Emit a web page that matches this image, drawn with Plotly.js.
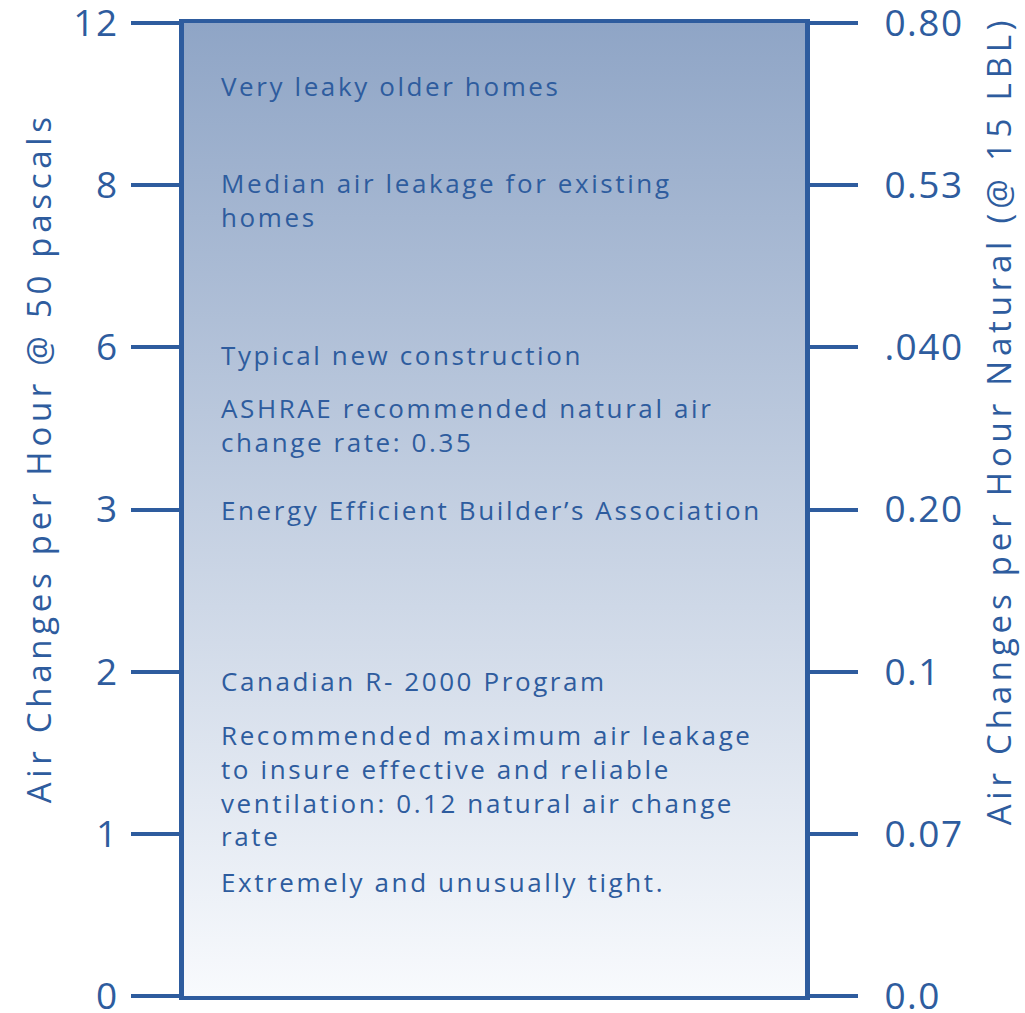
<!DOCTYPE html>
<html>
<head>
<meta charset="utf-8">
<script src="https://cdn.plot.ly/plotly-3.0.1.min.js"></script>
<style>
html,body{margin:0;padding:0;background:#fff;}
#chart{width:1025px;height:1013px;}
text.annotation-text{letter-spacing:2.6px;}
.ytick text,.y2tick text{letter-spacing:1.5px;}
</style>
</head>
<body>
<div id="chart"></div>
<script>
// Data
const ach50Ticks = ["0", "1", "2", "3", "6", "8", "12"];
const naturalTicks = ["0.0", "0.07", "0.1", "0.20", ".040", "0.53", "0.80"];
const labels = [
  ["Very leaky older homes"],
  ["Median air leakage for existing", "homes"],
  ["Typical new construction"],
  ["ASHRAE recommended natural air", "change rate: 0.35"],
  ["Energy Efficient Builder\u2019s Association"],
  ["Canadian R- 2000 Program"],
  ["Recommended maximum air leakage", "to insure effective and reliable", "ventilation: 0.12 natural air change", "rate"],
  ["Extremely and unusually tight."]
];
const labelLevels = [5.61, 4.91, 3.95, 3.52, 3.0, 1.94, 1.30, 0.70];
const leftTitle = 'Air Changes per Hour @ 50 pascals';
const rightTitle = 'Air Changes per Hour Natural (@ 15 LBL)';

const blue = '#2e5c9e';
const fontFam = '"Open Sans", "Noto Sans", sans-serif';
const idx = ach50Ticks.map((_, i) => i);
const yMax = idx[idx.length - 1];

const bg = {
  type: 'scatter', mode: 'lines',
  x: [0, 1, 1, 0, 0],
  y: [0, 0, yMax, yMax, 0],
  fill: 'toself',
  fillgradient: {type: 'vertical', colorscale: [[0, '#f8fafd'], [1, '#8fa5c6']]},
  line: {width: 0},
  hoverinfo: 'skip', showlegend: false
};
const right = {
  type: 'scatter', mode: 'markers', x: [0.5], y: [0], yaxis: 'y2',
  marker: {opacity: 0}, hoverinfo: 'skip', showlegend: false
};

const annotations = labels.map((lines, i) => ({
  xref: 'x', yref: 'y', x: 0.057, y: labelLevels[i],
  xanchor: 'left', yanchor: 'middle', align: 'left',
  text: lines.join('<br>'), showarrow: false,
  font: {family: fontFam, size: 26, color: blue}
}));
annotations.push({
  xref: 'paper', yref: 'paper', x: -0.233, y: 0.553, textangle: -90,
  xanchor: 'center', yanchor: 'middle', showarrow: false,
  text: '<span style="letter-spacing:4.7px">' + leftTitle + '</span>',
  font: {family: fontFam, size: 33, color: blue}
});
annotations.push({
  xref: 'paper', yref: 'paper', x: 1.313, y: 0.592, textangle: -90,
  xanchor: 'center', yanchor: 'middle', showarrow: false,
  text: '<span style="letter-spacing:4.8px">' + rightTitle + '</span>',
  font: {family: fontFam, size: 33, color: blue}
});

const axisCommon = {
  range: [0, yMax], tickmode: 'array', tickvals: idx,
  ticks: 'outside', ticklen: 48, tickwidth: 4, tickcolor: blue,
  showline: true, linewidth: 5, linecolor: blue,
  showgrid: false, zeroline: false, fixedrange: true,
  ticklabeloverflow: 'allow',
  tickfont: {family: fontFam, size: 37, color: blue}
};

const layout = {
  width: 1025, height: 1013,
  margin: {l: 184, r: 220, t: 23, b: 17},
  paper_bgcolor: '#ffffff', plot_bgcolor: 'rgba(0,0,0,0)',
  showlegend: false,
  xaxis: {range: [0, 1], showticklabels: false, ticks: '', showgrid: false, zeroline: false,
          showline: true, mirror: true, linewidth: 4, linecolor: blue, fixedrange: true},
  yaxis: Object.assign({}, axisCommon, {ticktext: ach50Ticks, side: 'left', ticklabelstandoff: 5}),
  yaxis2: Object.assign({}, axisCommon, {ticktext: naturalTicks, side: 'right', overlaying: 'y', ticklabelstandoff: 19}),
  annotations: annotations
};

Plotly.newPlot('chart', [bg, right], layout, {staticPlot: true, displayModeBar: false});
</script>
</body>
</html>
